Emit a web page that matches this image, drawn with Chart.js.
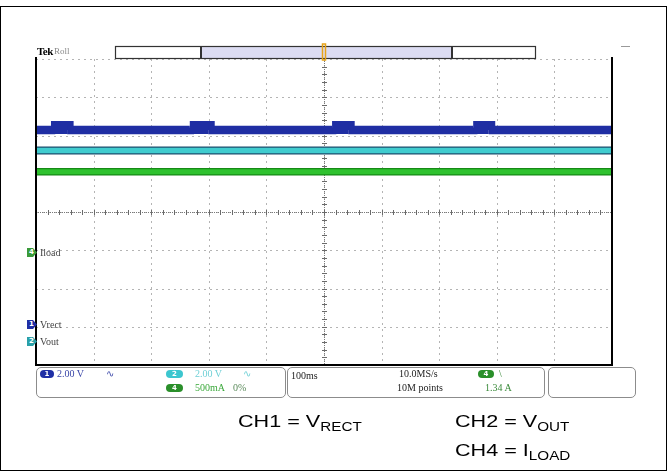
<!DOCTYPE html>
<html>
<head>
<meta charset="utf-8">
<script src="https://cdn.jsdelivr.net/npm/chart.js@4.4.1/dist/chart.umd.min.js"></script>
<style>
  html, body { margin: 0; padding: 0; background: #fff; }
  #wrap { position: relative; width: 669px; height: 472px; overflow: hidden; }
  #scope { position: absolute; left: 0; top: 0; }
  .abs { position: absolute; white-space: nowrap; }
  .frame { left: 0; top: 6px; width: 667px; height: 465px; border: 1px solid #000; box-sizing: border-box; }
  .scr { font-family: "Liberation Serif", serif; font-size: 10px; line-height: 10px; }
  .box { border: 1.5px solid #8c8c8c; border-radius: 5px; box-sizing: border-box; background: #fff; }
  .oval { border-radius: 5px; color: #fff; font: bold 7px "DejaVu Sans", sans-serif; line-height: 8px; text-align: center; }
  .mark { width: 10px; height: 9px; color: #fff; font: bold 7px "DejaVu Sans", sans-serif; line-height: 9px; text-indent: 2px;
          clip-path: polygon(0 0, 60% 0, 100% 50%, 60% 100%, 0 100%); }
  .cap { font-family: "Liberation Sans", Arial, sans-serif; font-size: 17px; line-height: 18px; color: #000;
         transform: scaleX(1.27); transform-origin: 0 0; }
  .cap sub { font-size: 12px; vertical-align: -4px; line-height: 0; }
</style>
</head>
<body>
<div id="wrap">
  <canvas id="scope" width="669" height="472"></canvas>
  <div class="abs frame"></div>

  <!-- cabecera del osciloscopio -->
  <div class="abs" style="left:37px;top:45px;font:bold 11px 'Liberation Serif',serif;letter-spacing:-0.5px;">Tek</div>
  <div class="abs scr" style="left:54px;top:46px;color:#888;font-size:9px;">Roll</div>

  <!-- marcadores de canal -->
  <div class="abs mark" style="left:27px;top:248px;background:#3a9a3a;">4</div>
  <div class="abs scr" style="left:40px;top:248px;color:#444;">Iload</div>
  <div class="abs mark" style="left:27px;top:320px;background:#1f2fa6;">1</div>
  <div class="abs scr" style="left:40px;top:320px;color:#444;">Vrect</div>
  <div class="abs mark" style="left:27px;top:337px;background:#2aa0a8;">2</div>
  <div class="abs scr" style="left:40px;top:337px;color:#444;">Vout</div>

  <!-- panel inferior -->
  <div class="abs box" style="left:36px;top:367px;width:250px;height:31px;"></div>
  <div class="abs box" style="left:287px;top:367px;width:258px;height:31px;"></div>
  <div class="abs box" style="left:548px;top:367px;width:88px;height:31px;"></div>

  <div class="abs oval" style="left:40px;top:370px;width:14px;height:8px;background:#1f2fa6;">1</div>
  <div class="abs scr" style="left:57px;top:369px;color:#3a46a8;">2.00 V</div>
  <div class="abs scr" style="left:106px;top:369px;color:#3a46a8;">∿</div>

  <div class="abs oval" style="left:166px;top:370px;width:17px;height:8px;background:#3cc6cf;">2</div>
  <div class="abs scr" style="left:195px;top:369px;color:#6fd0d6;">2.00 V</div>
  <div class="abs scr" style="left:243px;top:369px;color:#6fd0d6;">∿</div>
  <div class="abs oval" style="left:166px;top:384px;width:17px;height:8px;background:#2a8f2a;">4</div>
  <div class="abs scr" style="left:195px;top:383px;color:#3aa83a;">500mA</div>
  <div class="abs scr" style="left:233px;top:383px;color:#5a8a5a;">0%</div>

  <div class="abs scr" style="left:291px;top:371px;color:#222;">100ms</div>
  <div class="abs scr" style="left:399px;top:369px;color:#222;">10.0MS/s</div>
  <div class="abs scr" style="left:397px;top:383px;color:#222;">10M points</div>
  <div class="abs oval" style="left:478px;top:370px;width:16px;height:8px;background:#2a8f2a;">4</div>
  <div class="abs scr" style="left:499px;top:369px;color:#3a8a3a;">\</div>
  <div class="abs scr" style="left:485px;top:383px;color:#3a8a3a;">1.34 A</div>

  <!-- leyenda de canales -->
  <div class="abs cap" style="left:238px;top:413px;">CH1 = V<sub>RECT</sub></div>
  <div class="abs cap" style="left:455px;top:413px;">CH2 = V<sub>OUT</sub></div>
  <div class="abs cap" style="left:455px;top:442px;">CH4 = I<sub>LOAD</sub></div>
</div>

<script>
// Datos (100 ms/div, 10 div)
const sampleMs = [0, 100, 200, 300, 400, 500, 600, 700, 800, 900, 1000];
const voutVolts = [10.02, 10.02, 10.02, 10.02, 10.02, 10.02, 10.02, 10.02, 10.02, 10.02, 10.02];
const iloadAmps = [1.06, 1.06, 1.06, 1.06, 1.06, 1.06, 1.06, 1.06, 1.06, 1.06, 1.06];

// Vrect: escalones cortos cada ~245 ms
const vrectMs = [0, 26, 54, 267, 299, 514, 542, 759, 786, 1000];
const vrectVolts = [10.19, 10.32, 10.19, 10.32, 10.19, 10.32, 10.19, 10.32, 10.19, 10.19];

// Escala vertical (unidades/div) y posición del cero (div) de cada canal
const channelNames = ["Vrect", "Vout", "Iload"];
const channelPerDiv = [2.0, 2.0, 0.5];
const channelZeroDiv = [-2.95, -3.4, -1.07];

function toDiv(times, values, ch) {
    return times.map(function (t, i) {
        return { x: t, y: values[i] / channelPerDiv[ch] + channelZeroDiv[ch] };
    });
}

const ptsVrect = toDiv(vrectMs, vrectVolts, 0);
const ptsVout = toDiv(sampleMs, voutVolts, 1);
const ptsIload = toDiv(sampleMs, iloadAmps, 2);

// Retícula y barra de registro del osciloscopio
const graticule = {
    id: "graticule",
    beforeDatasetsDraw: function (chart) {
        const ctx = chart.ctx;
        const xs = chart.scales.x;
        const ys = chart.scales.y;
        const L = xs.left, R = xs.right, T = ys.top, B = ys.bottom;
        ctx.save();
        ctx.lineWidth = 1;
        ctx.strokeStyle = "#b4b4b4";
        ctx.setLineDash([2, 4]);
        for (let i = 0; i <= 10; i++) {
            const x = Math.round(xs.getPixelForValue(i * 100)) + 0.5;
            ctx.beginPath(); ctx.moveTo(x, T); ctx.lineTo(x, B); ctx.stroke();
        }
        for (let j = -4; j <= 4; j++) {
            const y = Math.round(ys.getPixelForValue(j)) + 0.5;
            ctx.beginPath(); ctx.moveTo(L, y); ctx.lineTo(R, y); ctx.stroke();
        }
        // ejes centrales con marcas
        ctx.setLineDash([1, 1]);
        ctx.strokeStyle = "#7a7a7a";
        const cx = Math.round(xs.getPixelForValue(500)) + 0.5;
        const cy = Math.round(ys.getPixelForValue(0)) + 0.5;
        ctx.beginPath(); ctx.moveTo(cx, T); ctx.lineTo(cx, B); ctx.stroke();
        ctx.beginPath(); ctx.moveTo(L, cy); ctx.lineTo(R, cy); ctx.stroke();
        ctx.setLineDash([]);
        ctx.strokeStyle = "#6a6a6a";
        for (let k = 1; k < 50; k++) {
            const x = Math.round(xs.getPixelForValue(k * 20)) + 0.5;
            ctx.beginPath(); ctx.moveTo(x, cy - 2.5); ctx.lineTo(x, cy + 2.5); ctx.stroke();
        }
        for (let k = -19; k < 20; k++) {
            const y = Math.round(ys.getPixelForValue(k * 0.2)) + 0.5;
            ctx.beginPath(); ctx.moveTo(cx - 2.5, y); ctx.lineTo(cx + 2.5, y); ctx.stroke();
        }
        ctx.restore();
    },
    afterDraw: function (chart) {
        const ctx = chart.ctx;
        const xs = chart.scales.x;
        const ys = chart.scales.y;
        const L = xs.left, R = xs.right, T = ys.top, B = ys.bottom;
        ctx.save();
        // marco
        ctx.strokeStyle = "#000";
        ctx.lineWidth = 2;
        ctx.beginPath();
        ctx.moveTo(L, T - 2); ctx.lineTo(L, B); ctx.lineTo(R, B); ctx.lineTo(R, T - 2);
        ctx.stroke();
        // barra de registro
        ctx.fillStyle = "#fff";
        ctx.fillRect(115, 47, 420, 12);
        ctx.fillStyle = "#dcdcf2";
        ctx.fillRect(200, 47, 252, 12);
        ctx.strokeStyle = "#333";
        ctx.lineWidth = 1.2;
        ctx.strokeRect(115.5, 46.5, 420, 12);
        ctx.lineWidth = 2;
        ctx.beginPath(); ctx.moveTo(201, 46); ctx.lineTo(201, 59); ctx.stroke();
        ctx.beginPath(); ctx.moveTo(452, 46); ctx.lineTo(452, 59); ctx.stroke();
        // disparo
        const tx = xs.getPixelForValue(500);
        ctx.strokeStyle = "#e8a317";
        ctx.lineWidth = 1.5;
        ctx.strokeRect(tx - 1.5, 44, 3, 16);
        // guion superior derecho
        ctx.strokeStyle = "#999";
        ctx.lineWidth = 1;
        ctx.beginPath(); ctx.moveTo(621, 46.5); ctx.lineTo(630, 46.5); ctx.stroke();
        ctx.restore();
    }
};

const ctx = document.getElementById("scope").getContext("2d");
new Chart(ctx, {
    type: "line",
    data: {
        datasets: [
            {
                label: channelNames[0],
                data: ptsVrect,
                borderColor: "#1f2ea3",
                borderWidth: 8.5,
                stepped: true,
                pointRadius: 0,
                order: 1,
                segment: {
                    borderWidth: function (c) {
                        return vrectVolts[c.p0DataIndex] > vrectVolts[c.p1DataIndex] ? 13 : 8.5;
                    }
                }
            },
            { label: channelNames[1], data: ptsVout, borderColor: "#40cccf", borderWidth: 5.5, pointRadius: 0, order: 2 },
            { label: channelNames[1] + " borde", data: ptsVout, borderColor: "#1d4f6e", borderWidth: 8, pointRadius: 0, order: 3 },
            { label: channelNames[2], data: ptsIload, borderColor: "#2fc22f", borderWidth: 5, pointRadius: 0, order: 4 },
            { label: channelNames[2] + " borde", data: ptsIload, borderColor: "#168a16", borderWidth: 7.5, pointRadius: 0, order: 5 }
        ]
    },
    options: {
        responsive: false,
        animation: false,
        layout: { padding: { left: 36, top: 59, right: 57, bottom: 107 } },
        plugins: { legend: { display: false }, tooltip: { enabled: false } },
        scales: {
            x: {
                type: "linear", min: 0, max: 1000,
                ticks: { display: false }, grid: { display: false }, border: { display: false },
                afterFit: function (s) { s.height = 0; }
            },
            y: {
                type: "linear", min: -4, max: 4,
                ticks: { display: false }, grid: { display: false }, border: { display: false },
                afterFit: function (s) { s.width = 0; }
            }
        }
    },
    plugins: [graticule]
});
</script>
</body>
</html>
